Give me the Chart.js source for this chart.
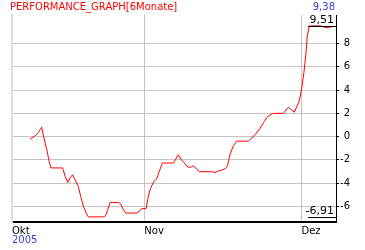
<!DOCTYPE html>
<html>
<head>
<meta charset="utf-8">
<script src="https://cdn.jsdelivr.net/npm/chart.js@4"></script>
<style>
body { margin: 0; background: #fff; }
#wrap { position: relative; width: 365px; height: 250px; }
.txt { position: absolute; font: 10px "DejaVu Sans", sans-serif; white-space: nowrap; }
</style>
</head>
<body>
<div id="wrap">
    <canvas id="perfChart" width="365" height="250"></canvas>
    <div class="txt" style="left:10px;top:1px;color:#ff0000">PERFORMANCE_GRAPH[6Monate]</div>
    <div class="txt" id="lastVal" style="right:30px;top:1px;color:#4040cc"></div>
    <div class="txt" id="yearLbl" style="left:12px;top:234px;color:#4040cc"></div>
</div>
<script>
// positions along the time axis (Okt = 0) and performance in %
const xPos = [6, 7.7, 8.8, 9.9, 10.4, 11.6, 12.4, 13, 16.9, 17.7, 18.6, 19.3, 20.2, 21, 22.1, 22.9, 23.8, 24.7, 25.4,
    30.4, 31.2, 31.9, 32.7, 35.4, 36.2, 37.1, 37.9, 41.6, 42.7, 43.2, 44.7, 45.2, 46, 46.6, 47.3, 48.2, 49.1, 50.1,
    53.8, 54.6, 55.4, 56.3, 57.3, 58.6, 59.7, 60.4, 61.3, 62.4, 66.6, 67.7, 68.4, 69.3, 71, 71.8, 72.7, 73.8, 74.9,
    78.8, 79.9, 81.3, 82.7, 84.1, 85.2, 86.9, 90.4, 92.1, 92.9, 94.1, 94.9, 95.8, 96.6, 97.3, 98, 98.4, 99.1,
    103, 103.8, 104.7, 105.8, 106.3];
const perf = [-0.22, 0.06, 0.34, 0.81, 0.15, -1.14, -2.15, -2.7, -2.7, -3.43, -3.95, -3.57, -3.29, -3.72, -4.29, -5.15, -6.0, -6.58, -6.91,
    -6.91, -6.81, -6.29, -5.67, -5.67, -5.78, -6.29, -6.58, -6.58, -6.38, -6.2, -6.2, -5.43, -4.58, -4.23, -3.86, -3.66, -3.0, -2.28,
    -2.28, -1.94, -1.57, -1.94, -2.23, -2.63, -2.63, -2.52, -2.71, -3.03, -3.03, -3.09, -3.0, -2.94, -2.77, -2.57, -1.5, -0.8, -0.4,
    -0.4, -0.14, 0.23, 0.72, 1.29, 1.72, 1.99, 1.99, 2.5, 2.35, 2.09, 2.55, 3.1, 4.2, 5.5, 7.2, 8.58, 9.51,
    9.51, 9.44, 9.36, 9.42, 9.38];
const monthLabels = ["Okt", "Nov", "Dez"];
const monthPos = [0, 44.1, 96.5];
const yTicks = [-6, -4, -2, 0, 2, 4, 6, 8];
const yearLabel = "2005";

function fmt(v) {
    return v.toFixed(2).replace(".", ",");
}

document.getElementById("lastVal").textContent = fmt(perf[perf.length - 1]);
document.getElementById("yearLbl").textContent = yearLabel;

const maxVal = Math.max(...perf);
const minVal = Math.min(...perf);

// draws the max / min marker with value above a short line
const extremes = {
    id: "extremes",
    afterDatasetsDraw(chart) {
        const ctx = chart.ctx;
        const y = chart.scales.y;
        const area = chart.chartArea;
        ctx.save();
        ctx.strokeStyle = "#000";
        ctx.lineWidth = 1;
        ctx.fillStyle = "#000";
        ctx.font = '11px "DejaVu Sans", sans-serif';
        ctx.textAlign = "right";
        ctx.textBaseline = "bottom";
        [maxVal, minVal].forEach(v => {
            let py = Math.round(y.getPixelForValue(v)) + 0.5;
            ctx.beginPath();
            ctx.moveTo(area.right - 28, py);
            ctx.lineTo(area.right, py);
            ctx.stroke();
            ctx.fillText(fmt(v), area.right - 2, py - 1);
        });
        ctx.restore();
    }
};

new Chart(document.getElementById("perfChart"), {
    type: "line",
    data: {
        datasets: [{
            data: xPos.map((x, i) => ({ x: x, y: perf[i] })),
            borderColor: "#ff0000",
            borderWidth: 1,
            pointRadius: 0,
            tension: 0,
            fill: false
        }]
    },
    options: {
        responsive: false,
        animation: false,
        devicePixelRatio: 1,
        layout: { padding: { left: 12, top: 15, right: 15, bottom: 0 } },
        plugins: { legend: { display: false }, tooltip: { enabled: false } },
        scales: {
            x: {
                type: "linear",
                min: 0,
                max: 108,
                afterBuildTicks: s => { s.ticks = monthPos.map(v => ({ value: v })); },
                afterFit: s => { s.height = 28; },
                ticks: {
                    autoSkip: false,
                    maxRotation: 0,
                    align: "start",
                    padding: 3,
                    color: "#000",
                    font: { family: "DejaVu Sans", size: 10 },
                    callback: (v, i) => monthLabels[i]
                },
                grid: {
                    drawTicks: false,
                    color: c => c.index === 0 ? "rgba(0,0,0,0)" : "#c4c4c4"
                },
                border: { color: "#000", width: 2 }
            },
            y: {
                position: "right",
                min: -7.35,
                max: 10.45,
                afterBuildTicks: s => { s.ticks = yTicks.map(v => ({ value: v })); },
                afterFit: s => { s.width = 14; },
                ticks: {
                    crossAlign: "far",
                    padding: 2,
                    color: "#000",
                    font: { family: "DejaVu Sans", size: 10 },
                    callback: v => String(v)
                },
                grid: { color: "#c4c4c4", tickLength: 3, tickColor: "#000" },
                border: { color: "#000", width: 1 }
            },
            yLeft: {
                position: "left",
                min: 0,
                max: 1,
                afterFit: s => { s.width = 0; },
                ticks: { display: false },
                grid: { display: false, drawTicks: false },
                border: { color: "#d8dcf0", width: 2 }
            }
        }
    },
    plugins: [extremes]
});
</script>
</body>
</html>
